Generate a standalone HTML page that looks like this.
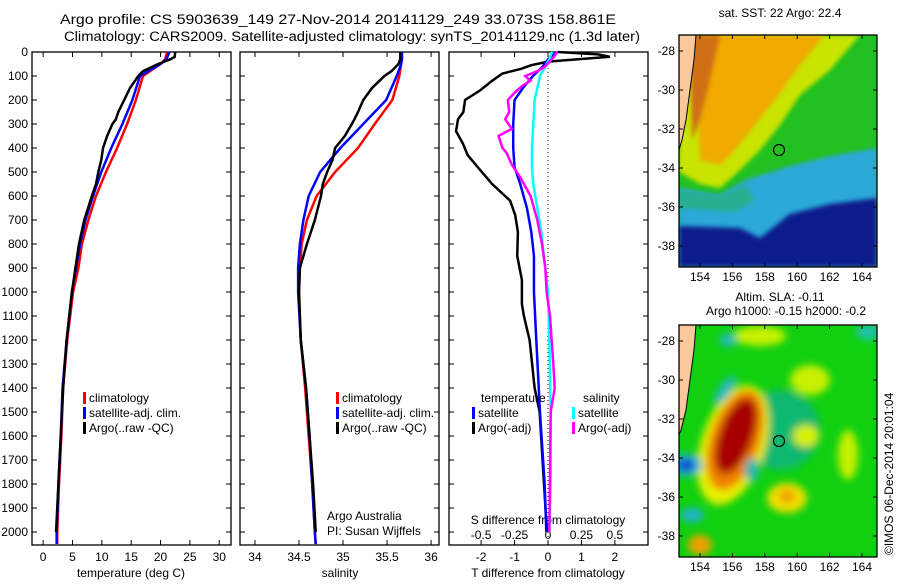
<!DOCTYPE html>
<html><head><meta charset="utf-8"><style>
body{margin:0;background:#fff;width:900px;height:580px;overflow:hidden}
svg{font-family:"Liberation Sans",sans-serif;font-size:12px}
</style></head><body>
<svg id="c" width="900" height="580">
<defs>
<filter id="bl" x="-50%" y="-50%" width="200%" height="200%"><feGaussianBlur stdDeviation="4"/></filter>
<filter id="bl2" x="-50%" y="-50%" width="200%" height="200%"><feGaussianBlur stdDeviation="2"/></filter>
<clipPath id="m1"><rect x="679" y="35" width="198" height="232"/></clipPath>
<clipPath id="m2"><rect x="679" y="325" width="198" height="232"/></clipPath>
</defs>
<text x="60" y="24" font-size="13.5" textLength="556" lengthAdjust="spacingAndGlyphs">Argo profile: CS 5903639_149 27-Nov-2014 20141129_249 33.073S 158.861E</text>
<text x="64" y="41" font-size="13.5" textLength="576" lengthAdjust="spacingAndGlyphs">Climatology: CARS2009. Satellite-adjusted climatology: synTS_20141129.nc (1.3d later)</text>

<!-- map 1 -->
<g clip-path="url(#m1)">
<rect x="679" y="35" width="198" height="232" fill="#22c020"/>
<polygon points="679,188 720,195 745,180 790,166 830,156 877,148 877,267 679,267" fill="#2aa8d8" filter="url(#bl2)"/>
<polygon points="679,190 720,196 745,185 755,200 735,212 679,208" fill="#28b090" filter="url(#bl2)"/>
<polygon points="679,226 740,228 760,238 790,214 830,204 877,198 877,267 679,267" fill="#0a1e8c" filter="url(#bl2)"/>
<polygon points="679,35 860,35 830,70 800,95 780,125 760,150 740,170 720,188 700,184 679,172" fill="#c8e400" filter="url(#bl2)"/>
<polygon points="695,35 825,35 800,65 775,100 755,125 735,150 720,165 700,160" fill="#f0aa00" filter="url(#bl2)"/>
<polygon points="690,35 720,35 710,80 700,120 692,140" fill="#d07018" filter="url(#bl2)"/>
<polygon points="679,35 696,35 694,60 690,90 686,120 682,140 679,150" fill="#f9c89c" stroke="#000" stroke-width="1"/>
<circle cx="779" cy="150" r="5.5" fill="none" stroke="#000" stroke-width="1.2"/>
</g>
<!-- map 2 -->
<g clip-path="url(#m2)">
<rect x="679" y="325" width="198" height="232" fill="#10d010"/>
<g filter="url(#bl)">
<ellipse cx="780" cy="430" rx="40" ry="40" fill="#10b870"/>
<ellipse cx="760" cy="336" rx="26" ry="10" fill="#c8f000"/>
<ellipse cx="810" cy="380" rx="20" ry="15" fill="#c8f000"/>
<ellipse cx="806" cy="436" rx="13" ry="11" fill="#d8f000"/>
<ellipse cx="848" cy="455" rx="10" ry="25" fill="#c8f000"/>
<ellipse cx="787" cy="498" rx="20" ry="15" fill="#f0e000"/>
<ellipse cx="787" cy="496" rx="8" ry="7" fill="#f0a000"/>
<ellipse cx="700" cy="545" rx="12" ry="10" fill="#f0a000"/>
<ellipse cx="733" cy="445" rx="32" ry="62" fill="#e8f000" transform="rotate(18 733 445)"/>
<ellipse cx="735" cy="440" rx="25" ry="52" fill="#f08000" transform="rotate(18 735 440)"/>
<ellipse cx="736" cy="436" rx="17" ry="40" fill="#a80000" transform="rotate(20 736 436)"/>
<ellipse cx="725" cy="390" rx="17" ry="6" fill="#20b8c0" transform="rotate(-55 725 390)"/>
<ellipse cx="728" cy="340" rx="8" ry="7" fill="#20b8c0"/>
<ellipse cx="752" cy="470" rx="7" ry="12" fill="#20b8b0"/>
<ellipse cx="692" cy="515" rx="12" ry="7" fill="#20b0d0"/>
<ellipse cx="868" cy="332" rx="12" ry="8" fill="#20c0b0"/>
<ellipse cx="686" cy="465" rx="16" ry="11" fill="#20b0e0"/>
<ellipse cx="686" cy="465" rx="9" ry="6" fill="#1040c8"/>
</g>
<polygon points="679,325 696,325 694,350 690,380 686,410 681,430 679,435" fill="#f9c89c" stroke="#000" stroke-width="1"/>
<circle cx="779" cy="441" r="5.5" fill="none" stroke="#000" stroke-width="1.2"/>
</g>
<text x="780" y="17" text-anchor="middle">sat. SST: 22 Argo: 22.4</text>
<text x="780" y="301" text-anchor="middle">Altim. SLA: -0.11</text>
<text x="786" y="315" text-anchor="middle">Argo h1000: -0.15 h2000: -0.2</text>
<text transform="translate(893,555) rotate(-90)">©IMOS 06-Dec-2014 20:01:04</text>
<g id="g"></g>
</svg>
<script>
// depth-profile data
const depthT = [0,30,50,100,200,300,400,500,600,700,800,900,1000,1200,1400,1600,1800,2000,2050];
const tempClim = [21.1,20.8,20,17,15.8,14.3,12.6,10.7,9.0,7.7,6.6,6.0,5.1,4.1,3.4,3.1,2.7,2.4,2.4];
const tempSat = [21.5,21,20,16.5,15.2,13.5,11.6,9.9,8.5,7.2,6.3,5.6,4.9,4.0,3.3,3.0,2.6,2.3,2.3];
const depthArgo = [0,20,30,50,80,100,150,200,250,280,300,350,400,450,500,550,600,700,800,900,1000,1200,1400,1600,1800,2000];
const tempArgo = [22.5,22.4,21.7,19.6,17,16.2,14.8,13.8,12.8,12.4,11.8,10.9,10.2,9.9,9.4,9.0,8.3,7.0,6.1,5.5,4.9,4.0,3.4,3.0,2.6,2.2];
const salClim = [35.66,35.66,35.66,35.64,35.56,35.36,35.17,34.91,34.70,34.59,34.53,34.51,34.50,34.52,34.57,34.61,34.65,34.68,34.69];
const salSat = [35.67,35.67,35.66,35.61,35.49,35.23,34.97,34.74,34.61,34.55,34.51,34.49,34.49,34.52,34.58,34.62,34.65,34.68,34.69];
const salArgo = [35.65,35.65,35.65,35.63,35.55,35.47,35.33,35.23,35.17,35.13,35.1,35.02,34.91,34.88,34.82,34.77,34.75,34.68,34.59,34.51,34.50,34.52,34.58,34.62,34.66,34.69];
const depthDT = [0,10,20,30,40,55,70,90,120,160,200,250,280,330,380,430,480,550,620,680,750,850,950,1050,1100,1200,1400,1500,1800,2000];
const dTArgo = [0.3,1.5,1.85,0.9,0,-0.5,-0.8,-1.37,-1.67,-2.03,-2.48,-2.53,-2.69,-2.75,-2.55,-2.4,-2.1,-1.67,-1.13,-0.98,-0.9,-0.92,-0.78,-0.78,-0.72,-0.55,-0.4,-0.25,-0.12,-0.03];
const depthD = [0,30,60,100,150,200,300,400,480,550,650,750,850,1000,1200,1500,1800,2000];
const dTSat = [0.27,0,-0.15,-0.45,-0.75,-1,-1.04,-1.04,-1,-0.83,-0.63,-0.5,-0.42,-0.42,-0.35,-0.24,-0.1,-0.05];
const dSSat = [0.03,0.01,-0.02,-0.06,-0.08,-0.1,-0.11,-0.12,-0.12,-0.11,-0.08,-0.05,-0.03,0,0.01,0.02,0.02,0.01];
const depthDS = [0,30,60,80,100,120,140,170,200,250,280,320,350,400,420,470,520,600,700,800,900,1000,1100,1300,1400,1500,2000];
const dSArgo = [0.07,0.03,-0.02,-0.08,-0.17,-0.13,-0.19,-0.25,-0.3,-0.29,-0.32,-0.27,-0.37,-0.34,-0.31,-0.27,-0.21,-0.13,-0.08,-0.045,-0.02,-0.01,0.015,0.04,0.05,0.02,0.01];
const tTicks=[0,5,10,15,20,25,30], sTicks=[34,34.5,35,35.5,36], dtTicks=[-2,-1,0,1,2], dsTicks=[-0.5,-0.25,0,0.25,0.5];
const dsLabels=["-0.5","-0.25","0","0.25","0.5"];
const lonTicks=[154,156,158,160,162,164], latTicks=[-28,-30,-32,-34,-36,-38];

const NS="http://www.w3.org/2000/svg", G=document.getElementById('g');
function el(t,a,p){const e=document.createElementNS(NS,t);for(const k in a)e.setAttribute(k,a[k]);(p||G).appendChild(e);return e;}
const Y0=52, Y1=545, D1=2054;
const yD=d=>Y0+d*(Y1-Y0)/D1;
const P=[{x0:32,x1:231,v0:-1.9,v1:32},{x0:240,x1:439,v0:33.83,v1:36.09},{x0:449,x1:648,v0:-2.96,v1:2.99}];
const xs=(i,v)=>P[i].x0+(v-P[i].v0)*(P[i].x1-P[i].x0)/(P[i].v1-P[i].v0);
const xS=v=>xs(2,v*4);
function txt(x,y,s,anchor,name){const t=el('text',{x:x,y:y,'text-anchor':anchor||'start'});t.textContent=s;

return t;}
function line(pts,col,name,w){const p=el('polyline',{points:pts.map(q=>q.join(',')).join(' '),fill:'none',stroke:col,'stroke-width':w||2.5,'stroke-linejoin':'miter'});

return p;}
// frames & depth ticks
P.forEach((p,i)=>{
 const r=el('rect',{x:p.x0,y:Y0,width:p.x1-p.x0,height:Y1-Y0,fill:'none',stroke:'#000','stroke-width':1.3});
 
 
 for(let d=0;d<=2000;d+=100){const y=yD(d);
  el('line',{x1:p.x0,x2:p.x0+5,y1:y,y2:y,stroke:'#000'});el('line',{x1:p.x1,x2:p.x1-5,y1:y,y2:y,stroke:'#000'});
  if(i==0)txt(28,y+4,String(d),'end','depth-tick-label');}
});
function xticks(i,vals,labels,name,top,bottom,ly){vals.forEach((v,k)=>{const x=i==2&&name=='s'?xS(v):xs(i,v);
 if(top)el('line',{x1:x,x2:x,y1:Y0,y2:Y0+5,stroke:'#000'});
 if(bottom)el('line',{x1:x,x2:x,y1:Y1,y2:Y1-5,stroke:'#000'});
 if(ly)txt(x,ly,labels[k],'middle',name+'-tick-label');});}
xticks(0,tTicks,tTicks.map(String),'temp',1,1,561);
xticks(1,sTicks,sTicks.map(String),'sal',1,1,561);
xticks(2,dtTicks,dtTicks.map(String),'dt',0,1,561);
xticks(2,dsTicks,dsLabels,'s',1,0,539);
txt(131,577,'temperature (deg C)','middle','x-axis-title-temperature');
txt(340,577,'salinity','middle','x-axis-title-salinity');
txt(548,577,'T difference from climatology','middle','x-axis-title-t-diff');
txt(548,524,'S difference from climatology','middle','x-axis-title-s-diff');
// zero dotted
el('line',{x1:xs(2,0),x2:xs(2,0),y1:Y0,y2:Y1,stroke:'#000','stroke-dasharray':'1,3'});
// series
line(depthT.map((d,k)=>[xs(0,tempClim[k]),yD(d)]),'#f00','temp-climatology-line');
line(depthT.map((d,k)=>[xs(0,tempSat[k]),yD(d)]),'#00f','temp-satellite-line');
line(depthArgo.map((d,k)=>[xs(0,tempArgo[k]),yD(d)]),'#000','temp-argo-line');
line(depthT.map((d,k)=>[xs(1,salClim[k]),yD(d)]),'#f00','sal-climatology-line');
line(depthT.map((d,k)=>[xs(1,salSat[k]),yD(d)]),'#00f','sal-satellite-line');
line(depthArgo.map((d,k)=>[xs(1,salArgo[k]),yD(d)]),'#000','sal-argo-line');
line(depthDT.map((d,k)=>[xs(2,dTArgo[k]),yD(d)]),'#000','tdiff-argo-line');
line(depthD.map((d,k)=>[xs(2,dTSat[k]),yD(d)]),'#00f','tdiff-satellite-line');
line(depthD.map((d,k)=>[xS(dSSat[k]),yD(d)]),'#0ff','sdiff-satellite-line');
line(depthDS.map((d,k)=>[xS(dSArgo[k]),yD(d)]),'#f0f','sdiff-argo-line');
// legends
function leg(x,y,col,s,name){const r=el('rect',{x:x,y:y-10,width:3,height:12,fill:col});
 
 
 txt(x+6,y,s,'start',name);}
[[ '#f00','climatology'],['#00f','satellite-adj. clim.'],['#000','Argo(..raw -QC)']].forEach((e,k)=>{
 leg(83,402+k*15,e[0],e[1],'legend-entry-temp-'+k);leg(336,402+k*15,e[0],e[1],'legend-entry-sal-'+k);});
txt(481,402,'temperature','start','legend-header-temperature');
txt(583,402,'salinity','start','legend-header-salinity');
leg(472,417,'#00f','satellite','legend-tdiff-satellite');leg(472,432,'#000','Argo(-adj)','legend-tdiff-argo');
leg(572,417,'#0ff','satellite','legend-sdiff-satellite');leg(572,432,'#f0f','Argo(-adj)','legend-sdiff-argo');
txt(327,520,'Argo Australia','start','credit-argo-australia');
txt(327,535,'PI: Susan Wijffels','start','credit-pi');
// maps axes
const lonX=l=>700+(l-154)*16.2;
[[35,267,51],[325,557,341]].forEach((m,i)=>{
 const r=el('rect',{x:679,y:m[0],width:198,height:m[1]-m[0],fill:'none',stroke:'#000','stroke-width':1.3});
 
 
 lonTicks.forEach(l=>{const x=lonX(l);el('line',{x1:x,x2:x,y1:m[0],y2:m[0]+4,stroke:'#000'});el('line',{x1:x,x2:x,y1:m[1],y2:m[1]-4,stroke:'#000'});
  txt(x,m[1]+14,String(l),'middle','lon-tick-label');});
 latTicks.forEach(la=>{const y=m[2]+(-28-la)*19.5;el('line',{x1:679,x2:683,y1:y,y2:y,stroke:'#000'});el('line',{x1:877,x2:873,y1:y,y2:y,stroke:'#000'});
  txt(675,y+4,String(la),'end','lat-tick-label');});
});
</script>
</body></html>
